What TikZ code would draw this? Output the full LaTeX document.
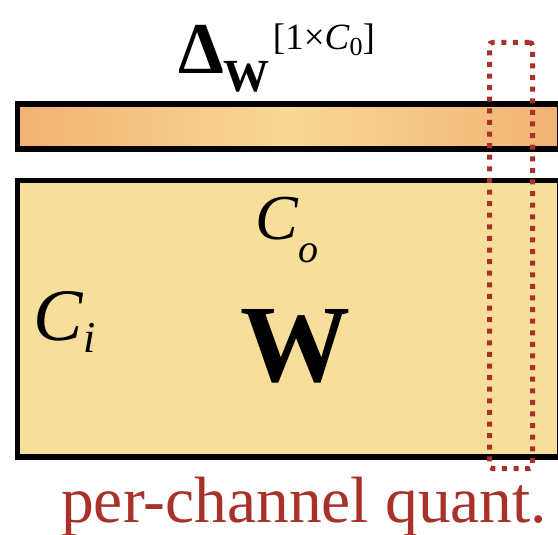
\documentclass[tikz,border=0pt]{standalone}
\usepackage{fontspec}
\setmainfont{Liberation Serif}
\usetikzlibrary{positioning}
\definecolor{wfill}{HTML}{F7DF9B}
\definecolor{barend}{HTML}{F2B274}
\definecolor{barmid}{HTML}{F8D995}
\definecolor{quantred}{HTML}{A8322A}

\begin{document}
\begin{tikzpicture}[x=1pt, y=-1pt,
    matbox/.style={rectangle, draw=black, line width=5.5pt, inner sep=0pt},
    quantbox/.style={rectangle, draw=quantred, line width=5pt,
        dash pattern=on 5pt off 6.6pt, rounded corners=3pt, inner sep=0pt},
    lbl/.style={inner sep=0pt, anchor=base west}]
\useasboundingbox (0,0) rectangle (558,535);
% weight matrix and its per-channel scales
\node[matbox, fill=wfill, minimum width=542pt, minimum height=276pt, anchor=north west] (wmat) at (14.5,178) {};
\node[matbox, left color=barend, right color=barend, middle color=barmid,
    minimum width=542pt, minimum height=45pt, anchor=north west] (deltabar) at (14.5,101.5) {};
\node[quantbox, minimum width=43pt, minimum height=426pt, anchor=north west] (chan) at (487,40) {};
% labels
\node[lbl] (deltalbl) at (178,74) {\fontsize{73}{73}\selectfont\textbf{Δ}\raisebox{-18pt}{\fontsize{46}{46}\selectfont\textbf{W}}\kern3pt\raisebox{24pt}{\fontsize{37}{37}\selectfont[1×\textit{C}\raisebox{-6pt}{\fontsize{26}{26}\selectfont 0}]}};
\node[lbl] (colbl) at (255,240) {\fontsize{64}{64}\selectfont\textit{C}\raisebox{-23pt}{\fontsize{40}{40}\selectfont\textit{o}}};
\node[inner sep=0pt, anchor=base] (wlbl) at (295,381) {\fontsize{110}{110}\selectfont\textbf{W}};
\node[lbl] (cilbl) at (33,340) {\fontsize{74}{74}\selectfont\textit{C}\raisebox{-12pt}{\fontsize{44}{44}\selectfont\textit{i}}};
\node[lbl, text=quantred] (quantlbl) at (61,522) {\fontsize{65.5}{65.5}\selectfont per-channel quant.};
\end{tikzpicture}
\end{document}
